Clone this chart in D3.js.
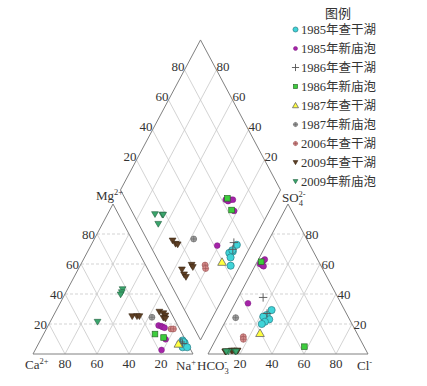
<!DOCTYPE html>
<html><head><meta charset="utf-8">
<script src="https://cdn.jsdelivr.net/npm/d3@7"></script>
<style>
body{margin:0;background:#fff}
svg{display:block}
text{font-family:'Liberation Serif','Times New Roman','Noto Sans CJK SC',serif;fill:#333}
</style>
</head><body>
<svg id="c" width="427" height="386"></svg>
<script>
// ---------- data (percent of meq) : [Ca, Mg, Na, HCO3, SO4, Cl] ----------
const seriesNames = ["1985年查干湖","1985年新庙泡","1986年查干湖","1986年新庙泡","1987年查干湖","1987年新庙泡","2006年查干湖","2009年查干湖","2009年新庙泡"];
const cgh1985 = [[1.5,7.5,91,45.6,29.3,25.1],[3.3,6,90.7,50.3,26,23.7],[2,9,89,53,24.9,22.1],[2,8,90,50.2,23.1,26.7],[4.2,4.5,91.3,53.7,21.5,24.8],[1.4,4.5,94.1,56.4,20,23.6]];
const xmp1985 = [[12,19,69,37.5,60,2.5],[10.5,18.5,71,36.5,59,4.5],[10,18,72,34.5,62,3.5],[9,17.5,73.5,33,63,4],[12.2,9.8,78,36,58.5,5.5],[18.3,2.7,79,58.1,33.8,8.1]];
const cgh1986 = [[3.6,8,88.4,46.7,37.7,15.6],[3,7,90,49.6,27,23.4]];
const xmp1986 = [[17.1,13.3,69.6,36,61.5,2.5],[12.9,11,76.1,37.3,4.9,57.8]];
const cgh1987 = [[5.8,6.7,87.5,60.6,13.8,25.6]];
const xmp1987 = [[13.4,24.5,62.1,70.6,24.2,5.2]];
const cgh2006 = [[5.4,16.7,77.9,72.2,11.5,16.3],[3.9,16.7,79.4,73,9.8,17.2]];
const cgh2009 = [[25.5,25,49.5,84.4,2,13.6],[22.5,25,52.5,83.6,2,14.4],[21,25,54,82.5,2,15.5],[7,28,65,88.2,1.5,10.3],[5,27,68,88.5,1.5,10],[4.5,25.5,70,88.2,1.5,10.3],[6.5,24,69.5,80.6,2,17.4],[5.5,23.5,71,80.6,2,17.4]];
const xmp2009 = [[49,21.3,29.7,86.6,1.5,11.9],[22.5,43,34.5,82.2,1.5,16.3],[24,41,35,81.7,1.5,16.8],[25.5,39.5,35,87.8,1.5,10.7]];
const gridTicks = [20,40,60,80];
const tickLabels = ["20","40","60","80"];

const allSeries = [cgh1985,xmp1985,cgh1986,xmp1986,cgh1987,xmp1987,cgh2006,cgh2009,xmp2009];
const markerTypes = ["cyan","purple","plus","square","tri","gray","pink","brown","green"];

// ---------- geometry ----------
const svg = d3.select("#c");
const side = d3.scaleLinear().domain([0,100]).range([0,160]);
const rise = d3.scaleLinear().domain([0,100]).range([0,150]);
const x0 = 33, base = 354, gap = 15;
const xr0 = x0 + side(100) + gap;
const Bx = x0 + side(100) + gap/2;
const By = base - rise(100*gap/side(100));
const cat = (Mg,Na) => [x0 + side(Na + Mg/2), base - rise(Mg)];
const an  = (SO4,Cl) => [xr0 + side(Cl + SO4/2), base - rise(SO4)];
const dia = (U,V) => [Bx + side((V-U)/2), By - rise(U+V)];

const grid = svg.append("g");
function line(p,q,dash){
  grid.append("line").attr("x1",p[0]).attr("y1",p[1]).attr("x2",q[0]).attr("y2",q[1])
    .attr("stroke","#c8c8c8").attr("stroke-width",0.8).attr("stroke-dasharray",dash||null);
}
gridTicks.forEach(t=>{
  line(cat(t,0),cat(t,100-t),"3,2");
  line(cat(0,t),cat(100-t,t));
  line(cat(0,100-t),cat(100-t,0));
  line(an(t,0),an(t,100-t),"3,2");
  line(an(0,t),an(100-t,t));
  line(an(0,100-t),an(100-t,0));
  line(dia(t,0),dia(t,100));
  line(dia(0,t),dia(100,t));
});

const outline = svg.append("g").attr("fill","none").attr("stroke","#808080").attr("stroke-width",1);
const poly = pts => outline.append("path").attr("d","M"+pts.map(p=>p.join(",")).join("L")+"Z");
poly([cat(0,0),cat(0,100),cat(100,0)]);
poly([an(0,0),an(0,100),an(100,0)]);
poly([dia(0,0),dia(100,0),dia(100,100),dia(0,100)]);

// ---------- tick labels ----------
const tl = svg.append("g").attr("font-size",13);
gridTicks.forEach((t,i)=>{
  let p = cat(t,0);
  tl.append("text").attr("x",p[0]-2).attr("y",p[1]+4.5).attr("text-anchor","end").text(tickLabels[i]);
  p = cat(0,100-t);
  tl.append("text").attr("x",p[0]).attr("y",368).attr("text-anchor","middle").text(tickLabels[i]);
  p = an(t,100-t);
  tl.append("text").attr("x",p[0]+1.5).attr("y",p[1]+4.5).attr("text-anchor","start").text(tickLabels[i]);
  p = an(0,t);
  tl.append("text").attr("x",p[0]).attr("y",368).attr("text-anchor","middle").text(tickLabels[i]);
  p = dia(100,t);
  tl.append("text").attr("x",p[0]).attr("y",p[1]+1.5).attr("text-anchor","end").text(tickLabels[i]);
  p = dia(t,100);
  tl.append("text").attr("x",p[0]).attr("y",p[1]+1.5).attr("text-anchor","start").text(tickLabels[i]);
});

// ---------- corner labels ----------
function ion(x,y,main,sub,sup){
  const t = svg.append("text").attr("x",x).attr("y",y).attr("font-size",13);
  t.append("tspan").text(main);
  if(sub){
    t.append("tspan").attr("font-size",8.5).attr("dy",4).text(sub);
    if(sup) t.append("tspan").attr("font-size",8.5).attr("dx",-4.5).attr("dy",-9.5).text(sup);
  } else if(sup){
    t.append("tspan").attr("font-size",8.5).attr("dy",-5.5).text(sup);
  }
}
ion(96,200,"Mg",null,"2+");
ion(25,369,"Ca",null,"2+");
ion(176,370,"Na",null,"+");
ion(197,370,"HCO","3","-");
ion(357,370,"Cl",null,"-");
ion(282,202,"SO","4","2-");

// ---------- markers ----------
function marker(g,type,x,y,k){
  k = k||1;
  switch(type){
    case "cyan": g.append("circle").attr("cx",x).attr("cy",y).attr("r",3.6*k).attr("fill","#3fd4d8").attr("stroke","#2a7d85").attr("stroke-width",0.7); break;
    case "purple": g.append("circle").attr("cx",x).attr("cy",y).attr("r",2.9*k).attr("fill","#a523a8").attr("stroke","#7d1a80").attr("stroke-width",0.5); break;
    case "plus": { const s=4.2*k;
      g.append("path").attr("d",`M${x-s},${y}H${x+s}M${x},${y-s}V${y+s}`).attr("stroke","#555").attr("stroke-width",0.9); break; }
    case "square": { const s=2.8*k;
      g.append("rect").attr("x",x-s).attr("y",y-s).attr("width",2*s).attr("height",2*s).attr("fill","#3ccd3c").attr("stroke","#2a6a2a").attr("stroke-width",0.7); break; }
    case "tri": { const s=4.3*k;
      g.append("path").attr("d",`M${x},${y-s}L${x+s},${y+s*0.75}L${x-s},${y+s*0.75}Z`).attr("fill","#ffff40").attr("stroke","#666").attr("stroke-width",0.8); break; }
    case "gray": case "pink": { const r=3*k;
      const f = type==="gray"?"#a0a0a0":"#d88c8c", st = type==="gray"?"#666":"#9a5555";
      g.append("circle").attr("cx",x).attr("cy",y).attr("r",r).attr("fill",f).attr("stroke",st).attr("stroke-width",0.6);
      g.append("path").attr("d",`M${x-r},${y}H${x+r}M${x},${y-r}V${y+r}`).attr("stroke",st).attr("stroke-width",0.6); break; }
    case "brown": case "green": { const s=3.4*k;
      const f = type==="brown"?"#5e3f24":"#3aa56c", st = type==="brown"?"#3a2612":"#22603e";
      g.append("path").attr("d",`M${x-s},${y-s*0.8}L${x+s},${y-s*0.8}L${x},${y+s*0.9}Z`).attr("fill",f).attr("stroke",st).attr("stroke-width",0.6); break; }
  }
}

const pts = svg.append("g");
allSeries.forEach((arr,i)=>{
  arr.forEach(d=>{
    const [Ca,Mg,Na,HCO3,SO4,Cl] = d;
    const p1 = cat(Mg,Na), p2 = an(SO4,Cl), p3 = dia(Ca+Mg, SO4+Cl);
    marker(pts,markerTypes[i],p1[0],p1[1]);
    marker(pts,markerTypes[i],p2[0],p2[1]);
    marker(pts,markerTypes[i],p3[0],p3[1]);
  });
});

// ---------- legend ----------
const lg = svg.append("g");
lg.append("text").attr("x",338).attr("y",18).attr("text-anchor","middle").attr("font-size",13).text("图例");
seriesNames.forEach((name,i)=>{
  const cy = 29.5 + i*19.0;
  marker(lg,markerTypes[i],295.5,cy,markerTypes[i]==="plus"?0.85:0.7);
  lg.append("text").attr("x",301).attr("y",cy+4.5).attr("font-size",12.5).text(name);
});
</script>
</body></html>
